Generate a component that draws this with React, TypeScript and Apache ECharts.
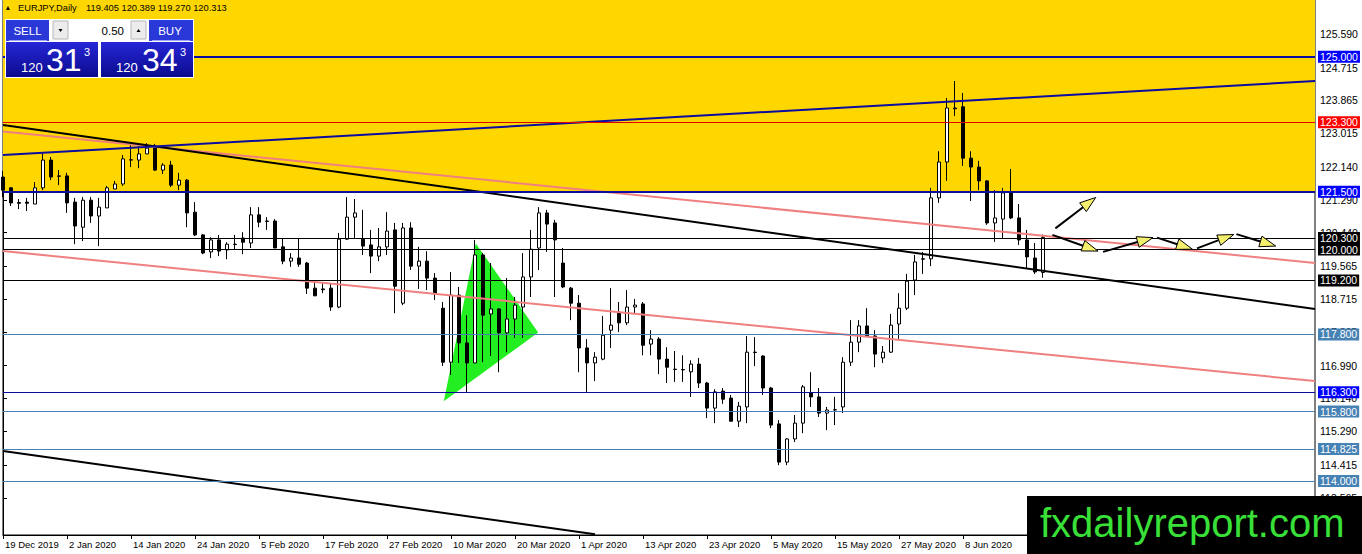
import { useEffect, useRef } from "react";
import * as echarts from "echarts";

const FONT = "Liberation Sans, Arial, sans-serif";

const SYMBOL_TITLE = "EURJPY,Daily";
const LAST_OHLC = ["119.405", "120.389", "119.270", "120.313"];

// daily bars from 19 Dec 2019, weekdays without these two holidays
const START_DATE = "2019-12-19";
const HOLIDAYS = ["2019-12-25", "2020-01-01"];
const SLOT_COUNT = 165; // bars + empty shift on the right
const LABEL_STEP = 8;
const LAST_LABEL_INDEX = 120; // later date labels sit under the site logo
const MONTHS = ["Jan", "Feb", "Mar", "Apr", "May", "Jun", "Jul", "Aug", "Sep", "Oct", "Nov", "Dec"];

const OPEN = [
  121.88, 121.6, 121.22, 121.23, 121.18, 121.6, 122.32, 121.91, 121.91, 121.23,
  120.58, 121.28, 120.87, 121.08, 121.57, 121.7, 122.32, 122.32, 122.48, 122.66,
  122.06, 122.19, 121.67, 121.8, 120.97, 120.38, 119.94, 120.25, 119.99, 120.14,
  120.3, 120.17, 120.9, 120.74, 120.74, 120.07, 119.7, 119.78, 119.65, 119.0,
  118.98, 119.0, 118.51, 120.27, 120.84, 120.27, 120.12, 119.83, 120.07, 120.51,
  118.61, 120.56, 119.57, 119.7, 119.26, 118.48, 117.08, 118.82, 117.58, 117.06,
  119.86, 118.33, 118.46, 117.84, 118.2, 118.51, 119.29, 120.04, 120.95, 120.69,
  119.65, 119.0, 118.61, 117.45, 117.06, 117.16, 117.91, 118.38, 118.1, 118.51,
  118.59, 117.55, 117.68, 117.16, 116.9, 116.89, 116.83, 117.03, 116.54, 115.89,
  116.33, 116.15, 115.55, 115.92, 117.34, 117.24, 116.41, 115.48, 114.49, 115.09,
  115.5, 116.28, 116.18, 115.76, 115.84, 115.92, 117.08, 117.6, 118.02, 117.76,
  117.19, 117.34, 118.07, 118.48, 119.21, 119.76, 119.76, 121.34, 122.27, 123.67,
  123.7, 122.37, 122.14, 121.78, 120.69, 120.79, 121.47, 120.82, 120.25, 119.78,
  119.405,
];
const CLOSE = [
  121.54, 121.21, 121.2, 121.2, 121.6, 122.32, 121.88, 121.9, 121.21, 120.61,
  121.28, 120.87, 121.1, 121.6, 121.7, 122.35, 122.33, 122.48, 122.63, 122.06,
  122.19, 121.67, 121.8, 120.95, 120.38, 119.91, 120.25, 119.96, 120.14, 120.13,
  120.19, 120.9, 120.71, 120.73, 120.04, 119.7, 119.78, 119.62, 119.0, 118.8,
  118.96, 118.51, 120.27, 120.84, 120.95, 120.09, 119.83, 120.07, 120.48, 119.05,
  120.56, 119.57, 119.7, 119.26, 118.87, 117.08, 118.82, 117.58, 117.06, 119.86,
  118.3, 118.46, 117.84, 118.2, 118.56, 119.29, 120.01, 120.95, 120.66, 120.25,
  119.03, 118.61, 117.45, 117.06, 117.21, 117.78, 118.04, 118.1, 118.51, 118.56,
  117.52, 117.68, 117.16, 116.95, 116.89, 116.88, 117.03, 116.54, 115.89, 116.31,
  116.12, 115.55, 115.94, 117.34, 117.33, 116.41, 115.45, 114.49, 115.09, 115.5,
  116.44, 116.18, 115.76, 115.84, 115.85, 117.08, 117.6, 118.02, 117.76, 117.29,
  117.34, 118.04, 118.48, 119.18, 119.68, 119.75, 121.34, 122.27, 123.67, 123.65,
  122.37, 122.14, 121.78, 120.69, 120.82, 121.47, 120.82, 120.25, 119.81, 119.42,
  120.313,
];
const HIGH = [
  122.04, 121.62, 121.31, 121.34, 121.75, 122.5, 122.4, 122.06, 121.99, 121.34,
  121.36, 121.36, 121.34, 121.65, 121.78, 122.45, 122.71, 122.71, 122.76, 122.74,
  122.24, 122.3, 121.99, 121.83, 121.23, 120.4, 120.32, 120.38, 120.19, 120.38,
  120.45, 121.1, 121.1, 120.84, 120.79, 120.3, 119.91, 120.3, 119.68, 119.16,
  119.13, 119.13, 120.43, 121.36, 121.31, 121.03, 120.51, 120.56, 120.97, 120.69,
  120.69, 120.71, 120.07, 119.96, 119.39, 118.64, 119.42, 119.03, 118.3, 120.25,
  119.91, 119.65, 118.48, 119.26, 118.77, 119.91, 120.51, 121.1, 121.03, 120.77,
  120.04, 119.03, 118.82, 117.68, 117.34, 118.28, 119.0, 118.64, 118.95, 118.72,
  118.64, 117.91, 117.73, 117.47, 117.37, 117.26, 117.13, 117.19, 116.57, 116.38,
  116.41, 116.23, 116.05, 117.76, 117.73, 117.26, 116.44, 115.58, 115.11, 115.71,
  116.49, 116.82, 116.41, 115.92, 116.18, 117.21, 118.17, 118.17, 118.48, 117.91,
  117.5, 118.33, 118.87, 119.37, 119.86, 119.94, 121.6, 122.55, 123.93, 124.37,
  124.06, 122.55, 122.3, 121.8, 121.54, 121.6, 122.09, 121.18, 120.51, 120.17,
  120.389,
];
const LOW = [
  121.36, 121.13, 121.05, 121.0, 121.18, 121.54, 121.8, 121.67, 120.95, 120.14,
  120.22, 120.69, 120.09, 121.08, 121.57, 121.65, 122.14, 122.11, 122.48, 122.04,
  121.96, 121.62, 121.54, 120.58, 120.35, 119.88, 119.78, 119.83, 119.75, 119.99,
  119.88, 120.04, 120.58, 120.51, 120.04, 119.62, 119.55, 119.55, 118.85, 118.8,
  118.87, 118.41, 118.48, 120.25, 120.3, 119.86, 119.39, 119.7, 119.86, 118.35,
  118.56, 119.47, 118.98, 118.95, 118.69, 116.98, 116.75, 117.06, 116.28, 117.06,
  117.08, 117.24, 116.82, 117.34, 117.71, 117.71, 118.77, 119.47, 119.94, 118.77,
  119.0, 118.17, 116.82, 116.31, 116.59, 117.13, 117.45, 117.86, 118.04, 118.35,
  117.26, 117.26, 116.77, 116.54, 116.57, 116.57, 116.18, 116.41, 115.63, 115.5,
  116.0, 115.55, 115.4, 115.5, 116.98, 116.23, 115.37, 114.41, 114.41, 115.01,
  115.24, 115.92, 115.66, 115.32, 115.45, 115.76, 116.98, 117.34, 117.73, 116.95,
  117.06, 117.32, 117.65, 118.43, 118.82, 119.37, 119.57, 121.21, 121.78, 123.46,
  122.17, 121.26, 121.54, 120.64, 120.2, 120.3, 120.79, 120.12, 119.52, 119.37,
  119.27,
];

// price scale
const Y_MIN = 112.6;
const Y_MAX = 126.47;
const Y_TICKS = [
  113.565, 114.415, 115.29, 116.14, 116.99, 117.865, 118.715, 119.565,
  120.44, 121.29, 122.14, 123.015, 123.865, 124.715, 125.59,
];

// horizontal levels with price tags
const LEVELS = [125.0, 123.3, 121.5, 120.3, 120.0, 119.2, 117.8, 116.3, 115.8, 114.825, 114.0];
const LEVEL_KIND = ["blue", "red", "blue", "black", "black", "black", "steel", "blue", "steel", "steel", "steel"];
const LEVEL_THICK = [true, false, true, false, false, false, false, false, false, false, false];

// yellow zone from this level to the top
const ZONE_FLOOR = 121.5;

// trend lines: [bar index, price] pairs
const TREND_BLUE = [[0, 122.45], [164, 124.37]];
const TREND_BLACK = [[0, 123.23], [164, 118.46]];
const TREND_PINK_UP = [[0, 123.06], [164, 119.65]];
const TREND_PINK_LOW = [[0, 119.96], [164, 116.59]];
const TREND_BLACK_LOW = [[0, 114.78], [74, 112.62]];

const TRIANGLE = [[55.1, 116.07], [59.1, 120.16], [66.9, 117.85]];

const ARROWS = [
  [[131.55, 120.55], [136.59, 121.35]],
  [[131.18, 120.38], [136.88, 119.96]],
  [[137.5, 119.94], [143.75, 120.31]],
  [[144.25, 120.31], [148.68, 120.01]],
  [[149.25, 120.03], [153.84, 120.39]],
  [[154.18, 120.4], [159.09, 120.09]],
];

const KIND_STYLE: Record<string, { line: string; tag: string }> = {
  blue: { line: "#0c0ca0", tag: "#0000ff" },
  red: { line: "#e00000", tag: "#ff0000" },
  black: { line: "#000000", tag: "#000000" },
  steel: { line: "#4682b4", tag: "#4682b4" },
};

function tradingDays(start: string, count: number, skip: string[]) {
  const out: string[] = [];
  const d = new Date(start + "T00:00:00Z");
  while (out.length < count) {
    const iso = d.toISOString().slice(0, 10);
    const wd = d.getUTCDay();
    if (wd !== 0 && wd !== 6 && !skip.includes(iso)) {
      out.push(`${d.getUTCDate()} ${MONTHS[d.getUTCMonth()]} ${d.getUTCFullYear()}`);
    }
    d.setUTCDate(d.getUTCDate() + 1);
  }
  return out;
}

const CATEGORIES = tradingDays(START_DATE, SLOT_COUNT, HOLIDAYS);

function trendSeries(data: number[][], color: string) {
  return {
    type: "line",
    xAxisIndex: 1,
    yAxisIndex: 0,
    data,
    symbol: "none",
    silent: true,
    z: 4,
    lineStyle: { color, width: 2 },
  };
}

export default function App() {
  const ref = useRef<HTMLDivElement>(null);

  useEffect(() => {
    document.body.style.margin = "0";
    if (!ref.current) return;
    const chart = echarts.init(ref.current, undefined, { renderer: "svg" });

    const priceGrad = () =>
      new echarts.graphic.LinearGradient(0, 0, 0, 1, [
        { offset: 0, color: "#2626d6" },
        { offset: 1, color: "#0b0b8e" },
      ]);
    const Z = 100;
    const showDate = (i: number) => i % LABEL_STEP === 0 && i <= LAST_LABEL_INDEX;

    chart.setOption({
      animation: false,
      backgroundColor: "#ffffff",
      grid: {
        left: 3,
        right: 47,
        top: 0,
        bottom: 19,
        show: true,
        borderColor: "#000",
        borderWidth: 1,
      },
      xAxis: [
        {
          type: "category",
          data: CATEGORIES,
          boundaryGap: false,
          axisLine: { lineStyle: { color: "#000", width: 1 } },
          axisTick: { show: true, interval: showDate, length: 4, lineStyle: { color: "#000" } },
          axisLabel: {
            interval: showDate,
            align: "left",
            padding: [0, 0, 0, 2],
            margin: 4,
            color: "#000",
            fontSize: 9.5,
            fontFamily: FONT,
          },
          splitLine: { show: false },
        },
        { type: "value", min: 0, max: SLOT_COUNT - 1, show: false },
      ],
      yAxis: {
        type: "value",
        position: "right",
        min: Y_MIN,
        max: Y_MAX,
        axisLine: { show: true, lineStyle: { color: "#000" } },
        axisTick: { show: true, customValues: Y_TICKS, length: 4, lineStyle: { color: "#000" } },
        axisLabel: {
          customValues: Y_TICKS,
          formatter: (v: number) => v.toFixed(3),
          color: "#000",
          fontSize: 10.5,
          fontFamily: FONT,
          margin: 5,
        },
        splitLine: { show: false },
      },
      series: [
        {
          type: "custom",
          xAxisIndex: 1,
          yAxisIndex: 0,
          z: 2,
          silent: true,
          data: [TRIANGLE[0]],
          renderItem: (_p: unknown, api: any) => ({
            type: "polygon",
            shape: { points: TRIANGLE.map((pt) => api.coord(pt)) },
            style: { fill: "#22ee22" },
          }),
        },
        {
          type: "candlestick",
          xAxisIndex: 0,
          yAxisIndex: 0,
          z: 3,
          barWidth: 4,
          data: OPEN.map((o, i) => [o, CLOSE[i], LOW[i], HIGH[i]]),
          itemStyle: {
            color: "#ffffff",
            color0: "#000000",
            borderColor: "#000000",
            borderColor0: "#000000",
            borderWidth: 1,
          },
          markArea: {
            silent: true,
            itemStyle: { color: "#ffd700", borderWidth: 0 },
            data: [[{ yAxis: ZONE_FLOOR }, { yAxis: Y_MAX }]],
          },
        },
        trendSeries(TREND_BLACK_LOW, "#000000"),
        trendSeries(TREND_PINK_LOW, "#f08080"),
        trendSeries(TREND_PINK_UP, "#f08080"),
        trendSeries(TREND_BLACK, "#000000"),
        {
          ...trendSeries(TREND_BLUE, "#0c0ca0"),
          markLine: {
            silent: true,
            symbol: ["none", "none"],
            z: 5,
            data: LEVELS.map((v, i) => ({
              yAxis: v,
              lineStyle: {
                color: KIND_STYLE[LEVEL_KIND[i]].line,
                width: LEVEL_THICK[i] ? 2 : 1,
                type: "solid",
              },
              label: {
                show: true,
                position: "end",
                distance: 3,
                formatter: v.toFixed(3),
                color: "#ffffff",
                backgroundColor: KIND_STYLE[LEVEL_KIND[i]].tag,
                padding: [1, 2, 0, 2],
                fontSize: 10.5,
                fontFamily: FONT,
              },
            })),
          },
        },
        {
          type: "custom",
          xAxisIndex: 1,
          yAxisIndex: 0,
          z: 6,
          silent: true,
          data: ARROWS.map((a) => a[0]),
          renderItem: (params: any, api: any) => {
            const [a, b] = ARROWS[params.dataIndex];
            const p1 = api.coord(a);
            const p2 = api.coord(b);
            const dx = p2[0] - p1[0];
            const dy = p2[1] - p1[1];
            const len = Math.hypot(dx, dy) || 1;
            const ux = dx / len;
            const uy = dy / len;
            const hl = 16;
            const hw = 5.5;
            const bx = p2[0] - ux * hl;
            const by = p2[1] - uy * hl;
            return {
              type: "group",
              children: [
                {
                  type: "line",
                  shape: { x1: p1[0], y1: p1[1], x2: bx, y2: by },
                  style: { stroke: "#000", lineWidth: 2 },
                },
                {
                  type: "polygon",
                  shape: {
                    points: [
                      [p2[0], p2[1]],
                      [bx - uy * hw, by + ux * hw],
                      [bx + uy * hw, by - ux * hw],
                    ],
                  },
                  style: { fill: "#f3ee6c", stroke: "#000", lineWidth: 1 },
                },
              ],
            };
          },
        },
      ],
      graphic: [
        // title line
        {
          type: "polygon",
          z: Z,
          shape: { points: [[6, 10], [10, 10], [8, 6]] },
          style: { fill: "#000" },
        },
        {
          type: "text",
          z: Z,
          x: 18,
          y: 8,
          style: { text: SYMBOL_TITLE, fill: "#000", fontSize: 9.3, fontFamily: FONT, verticalAlign: "middle" },
        },
        {
          type: "text",
          z: Z,
          x: 86,
          y: 8,
          style: { text: LAST_OHLC.join(" "), fill: "#000", fontSize: 9.3, fontFamily: FONT, verticalAlign: "middle" },
        },
        // trade panel
        { type: "rect", z: Z, shape: { x: 5, y: 19, width: 189, height: 59 }, style: { fill: "#ffffff" } },
        { type: "rect", z: Z, shape: { x: 6, y: 20, width: 43, height: 21 }, style: { fill: "#2b38d8" } },
        { type: "line", z: Z, shape: { x1: 9, y1: 40.5, x2: 47, y2: 40.5 }, style: { stroke: "#9aa6f2", lineWidth: 1 } },
        {
          type: "text",
          z: Z,
          x: 27.5,
          y: 31,
          style: { text: "SELL", fill: "#fff", fontSize: 11.5, fontFamily: FONT, align: "center", verticalAlign: "middle" },
        },
        { type: "rect", z: Z, shape: { x: 149, y: 20, width: 44, height: 21 }, style: { fill: "#2b38d8" } },
        { type: "line", z: Z, shape: { x1: 152, y1: 40.5, x2: 190, y2: 40.5 }, style: { stroke: "#9aa6f2", lineWidth: 1 } },
        {
          type: "text",
          z: Z,
          x: 170,
          y: 31,
          style: { text: "BUY", fill: "#fff", fontSize: 11.5, fontFamily: FONT, align: "center", verticalAlign: "middle" },
        },
        {
          type: "rect",
          z: Z,
          shape: { x: 53, y: 21, width: 15, height: 18 },
          style: { fill: "#ececec", stroke: "#b8b8b8", lineWidth: 1 },
        },
        { type: "polygon", z: Z, shape: { points: [[58.5, 29], [62.5, 29], [60.5, 32]] }, style: { fill: "#000" } },
        {
          type: "rect",
          z: Z,
          shape: { x: 131, y: 21, width: 15, height: 18 },
          style: { fill: "#ececec", stroke: "#b8b8b8", lineWidth: 1 },
        },
        { type: "polygon", z: Z, shape: { points: [[136.5, 32], [140.5, 32], [138.5, 29]] }, style: { fill: "#000" } },
        {
          type: "text",
          z: Z,
          x: 124,
          y: 31,
          style: { text: "0.50", fill: "#000", fontSize: 11.5, fontFamily: FONT, align: "right", verticalAlign: "middle" },
        },
        { type: "rect", z: Z, shape: { x: 6, y: 42, width: 92, height: 35 }, style: { fill: priceGrad() } },
        { type: "rect", z: Z, shape: { x: 101, y: 42, width: 92, height: 35 }, style: { fill: priceGrad() } },
        {
          type: "text",
          z: Z,
          x: 21,
          y: 67,
          style: { text: "120", fill: "#fff", fontSize: 13, fontFamily: FONT, verticalAlign: "middle" },
        },
        {
          type: "text",
          z: Z,
          x: 46,
          y: 60,
          style: { text: "31", fill: "#fff", fontSize: 32, fontFamily: FONT, verticalAlign: "middle" },
        },
        {
          type: "text",
          z: Z,
          x: 84,
          y: 52,
          style: { text: "3", fill: "#fff", fontSize: 11, fontFamily: FONT, verticalAlign: "middle" },
        },
        {
          type: "text",
          z: Z,
          x: 116,
          y: 67,
          style: { text: "120", fill: "#fff", fontSize: 13, fontFamily: FONT, verticalAlign: "middle" },
        },
        {
          type: "text",
          z: Z,
          x: 142,
          y: 60,
          style: { text: "34", fill: "#fff", fontSize: 32, fontFamily: FONT, verticalAlign: "middle" },
        },
        {
          type: "text",
          z: Z,
          x: 180,
          y: 52,
          style: { text: "3", fill: "#fff", fontSize: 11, fontFamily: FONT, verticalAlign: "middle" },
        },
        // site logo
        { type: "rect", z: Z, shape: { x: 1027, y: 496, width: 335, height: 58 }, style: { fill: "#000" } },
        {
          type: "text",
          z: Z,
          x: 1040,
          y: 523,
          style: {
            text: "fxdailyreport.com",
            fill: "#38e038",
            fontSize: 40,
            fontFamily: FONT,
            verticalAlign: "middle",
          },
        },
      ],
    });

    return () => chart.dispose();
  }, []);

  return (
    <div
      ref={ref}
      style={{ position: "fixed", left: 0, top: 0, width: 1362, height: 554, background: "#fff" }}
    />
  );
}
